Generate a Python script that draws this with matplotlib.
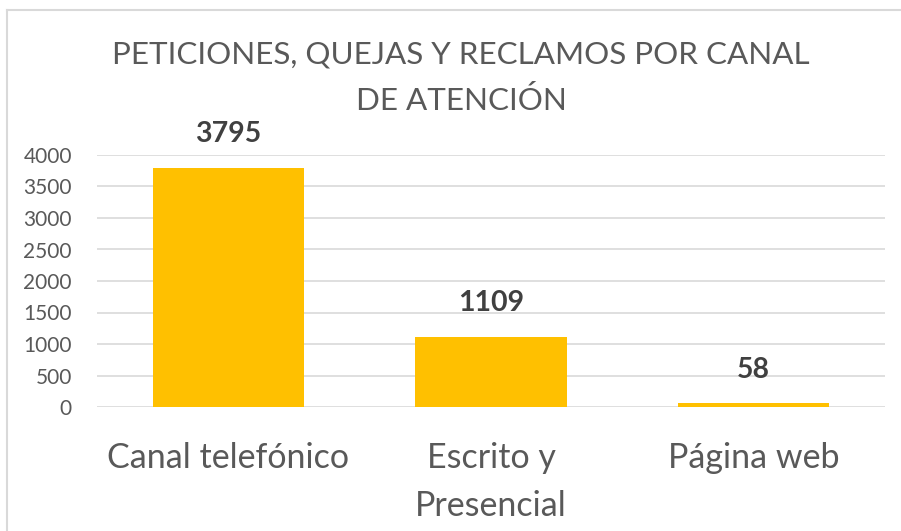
import matplotlib
matplotlib.use("Agg")
import matplotlib.pyplot as plt
from matplotlib.lines import Line2D

categories = ["Canal telefónico", "Escrito y\nPresencial", "Página web"]
values = [3795, 1109, 58]
yticks = [0, 500, 1000, 1500, 2000, 2500, 3000, 3500, 4000]
title_lines = ["PETICIONES, QUEJAS Y RECLAMOS POR CANAL", "DE ATENCIÓN"]

plt.rcParams['font.family'] = ['Lato', 'DejaVu Sans']
TXT = "#595959"

fig = plt.figure(figsize=(9.01, 5.31), dpi=100)
ax = fig.add_axes([97/901, 124/531, 788/901, 252/531])

x = list(range(len(categories)))
ax.bar(x, values, width=0.575, color="#FFC000", zorder=3)
ax.set_xlim(-0.5, 2.5)
ax.set_ylim(0, 4000)
ax.set_yticks(yticks)
ax.set_yticklabels([str(t) for t in yticks], fontsize=15, color=TXT)
ax.set_xticks(x)
ax.set_xticklabels(categories, fontsize=24.5, color=TXT, linespacing=1.64)
ax.tick_params(axis='both', length=0)
ax.tick_params(axis='x', pad=25)
ax.tick_params(axis='y', pad=18)
ax.grid(axis='y', color="#D9D9D9", linewidth=1.2, zorder=0)
for s in ax.spines.values():
    s.set_visible(False)

for xi, v in zip(x, values):
    ax.annotate(str(v), (xi, v), xytext=(0, 15), textcoords='offset points',
                ha='center', va='bottom', fontsize=20.5, fontweight='bold', color="#404040")

fig.text(461/901, 1 - 54/531, title_lines[0], ha='center', va='center', fontsize=22.55, color=TXT)
fig.text(461/901, 1 - 100/531, title_lines[1], ha='center', va='center', fontsize=22.55, color=TXT)

fig.add_artist(Line2D([6.5/901, 6.5/901], [0, 1 - 10/531], transform=fig.transFigure,
                      color="#D9D9D9", linewidth=1.5))
fig.add_artist(Line2D([6.5/901, 1], [1 - 10/531, 1 - 10/531], transform=fig.transFigure,
                      color="#D9D9D9", linewidth=1.5))

fig.savefig("out.png", dpi=100)
